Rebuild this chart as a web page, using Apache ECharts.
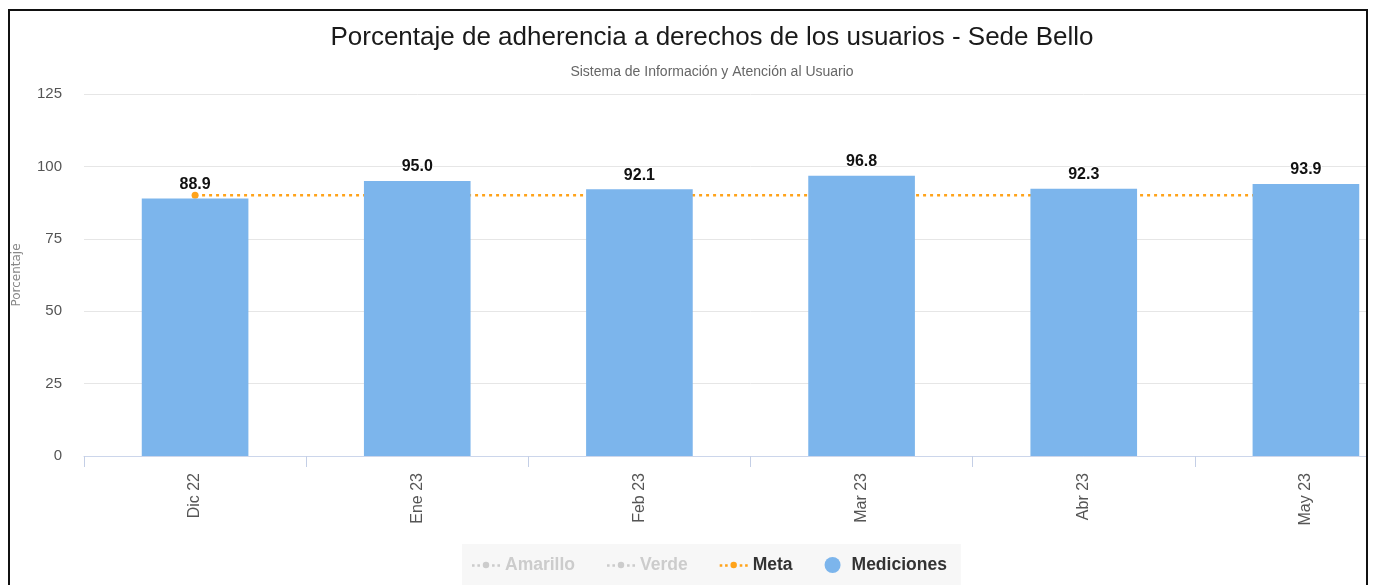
<!DOCTYPE html>
<html>
<head>
<meta charset="utf-8">
<script src="https://cdn.jsdelivr.net/npm/echarts@6/dist/echarts.min.js"></script>
<style>
  html, body { margin: 0; padding: 0; background: #fff; }
  .frame {
    position: absolute;
    left: 8px;
    top: 9px;
    width: 1360px;
    height: 600px;
    box-sizing: border-box;
    border: 2px solid #111;
    border-bottom: none;
    overflow: hidden;
  }
  #chart {
    position: absolute;
    left: -10px;
    top: -11px;
    width: 1424px;
    height: 585px;
  }
</style>
</head>
<body>
<div class="frame"><div id="chart"></div></div>
<script>
const months = ['Dic 22', 'Ene 23', 'Feb 23', 'Mar 23', 'Abr 23', 'May 23']
const mediciones = [88.9, 95.0, 92.1, 96.8, 92.3, 93.9]
const meta = [90, 90, 90, 90, 90, 90]
// hidden in the legend of the reference, values not visible
const amarillo = []
const verde = []
const yTicks = { min: 0, max: 125, interval: 25 }

const chart = echarts.init(document.getElementById('chart'))

const font = '"Liberation Sans", Arial, sans-serif'
// dotted line with a dot in the middle, like the legend of the original
const dotLine = 'path://M0,4.2h2.4v2.4h-2.4z M5,4.2h2.4v2.4h-2.4z M13,2a3,3 0 1,1 -0.01,0z M18.6,4.2h2.4v2.4h-2.4z M23.6,4.2h2.4v2.4h-2.4z'

chart.setOption({
  animation: false,
  textStyle: { fontFamily: font },
  title: {
    text: 'Porcentaje de adherencia a derechos de los usuarios - Sede Bello',
    subtext: 'Sistema de Información y Atención al Usuario',
    left: 'center',
    top: 25,
    padding: 0,
    itemGap: 14,
    textStyle: { fontFamily: font, fontSize: 26, fontWeight: 'normal', color: '#1a1a1a' },
    subtextStyle: { fontFamily: font, fontSize: 14, color: '#666' }
  },
  legend: {
    top: 544,
    left: 462,
    backgroundColor: '#f7f7f7',
    padding: [12, 14, 30, 10],
    itemGap: 32,
    itemWidth: 28,
    itemHeight: 16,
    inactiveColor: '#ccc',
    textStyle: { fontFamily: font, fontSize: 17.5, fontWeight: 'bold', color: '#333' },
    data: [
      { name: 'Amarillo', icon: dotLine },
      { name: 'Verde', icon: dotLine },
      { name: 'Meta', icon: dotLine },
      { name: 'Mediciones', icon: 'circle' }
    ],
    selected: { Amarillo: false, Verde: false }
  },
  grid: {
    left: 84,
    right: 7,
    top: 94,
    bottom: 129
  },
  xAxis: {
    type: 'category',
    data: months,
    axisLine: { lineStyle: { color: '#ccd6eb' } },
    axisTick: { show: true, length: 11, lineStyle: { color: '#c4cfe6' } },
    axisLabel: {
      rotate: 90,
      margin: 17,
      fontSize: 16,
      color: '#555'
    }
  },
  yAxis: {
    type: 'value',
    min: yTicks.min,
    max: yTicks.max,
    interval: yTicks.interval,
    name: 'Porcentaje',
    nameLocation: 'middle',
    nameGap: 61,
    nameTextStyle: { fontFamily: '"DejaVu Sans", sans-serif', fontSize: 12, color: '#888' },
    axisLabel: { fontSize: 15, color: '#555', margin: 22 },
    splitLine: { lineStyle: { color: '#e6e6e6' } }
  },
  series: [
    {
      name: 'Amarillo',
      type: 'line',
      data: amarillo,
      color: '#f2c94c',
      symbol: 'circle',
      symbolSize: 6,
      lineStyle: { type: [3, 4], width: 2 }
    },
    {
      name: 'Verde',
      type: 'line',
      data: verde,
      color: '#4caf50',
      symbol: 'circle',
      symbolSize: 6,
      lineStyle: { type: [3, 4], width: 2 }
    },
    {
      name: 'Meta',
      type: 'line',
      data: meta,
      color: '#ffa31a',
      z: 1,
      symbol: 'circle',
      symbolSize: 7,
      lineStyle: { type: [3, 4], width: 2.5 }
    },
    {
      name: 'Mediciones',
      type: 'bar',
      data: mediciones,
      z: 3,
      barWidth: '48%',
      itemStyle: { color: '#7cb5ec' },
      label: {
        show: true,
        position: 'top',
        distance: 6,
        fontSize: 16,
        fontWeight: 'bold',
        color: '#111',
        textBorderColor: '#fff',
        textBorderWidth: 2,
        formatter: p => p.value.toFixed(1)
      }
    }
  ]
})
</script>
</body>
</html>
